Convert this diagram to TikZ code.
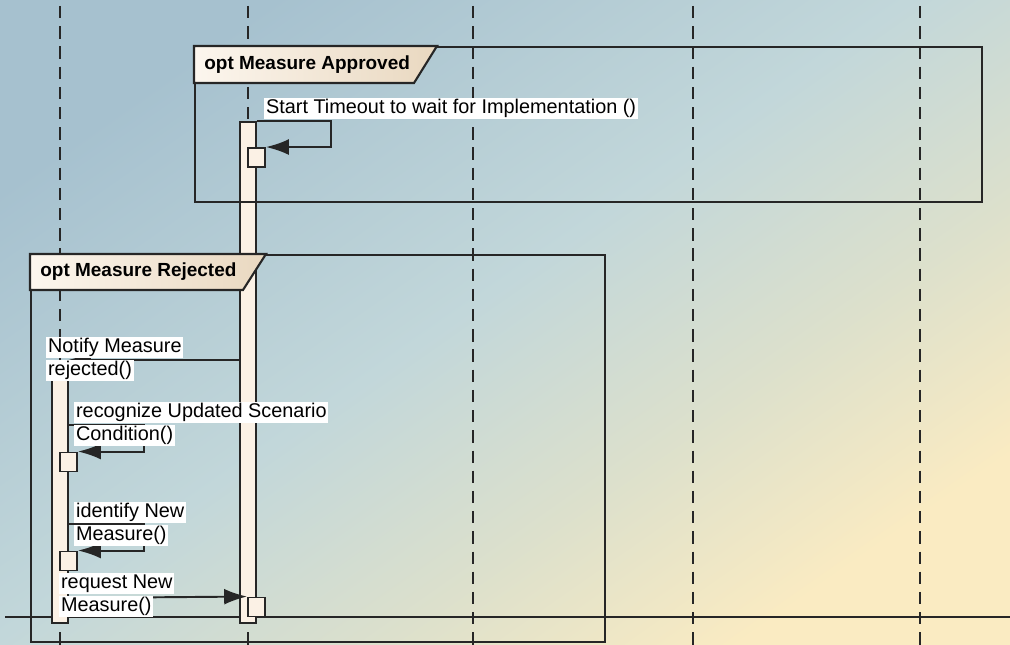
\documentclass[tikz,border=0pt]{standalone}
\usepackage{fontspec}
\setmainfont{Liberation Sans}
\usetikzlibrary{positioning, arrows.meta}

\definecolor{bgtop}{HTML}{A6C1CF}
\definecolor{bgmid}{HTML}{C2D7DA}
\definecolor{bgwarm}{HTML}{DCE0CC}
\definecolor{bgbot}{HTML}{FAEBC2}
\definecolor{barfill}{HTML}{FBF1E5}
\definecolor{tableft}{HTML}{FCF6EE}
\definecolor{tabright}{HTML}{E9D8C0}
\definecolor{ink}{HTML}{262626}

\pgfdeclareverticalshading{backdrop}{100bp}{color(0bp)=(bgbot); color(25bp)=(bgbot);
	color(38bp)=(bgwarm); color(52bp)=(bgmid); color(75bp)=(bgtop); color(100bp)=(bgtop)}

\tikzset{
	lifeline/.style={draw=ink, line width=1.1pt, dash pattern=on 7pt off 4.5pt},
	fragbox/.style={draw=ink, line width=1.2pt, inner sep=0pt},
	fragtab/.style={draw=ink, line width=1.2pt, left color=tableft, right color=tabright},
	fraglabel/.style={anchor=west, inner sep=0pt, font=\fontsize{10.8}{12}\selectfont\bfseries},
	actbar/.style={draw=ink, line width=1.1pt, fill=barfill, inner sep=0pt, minimum width=0.32cm},
	actbox/.style={draw=ink, line width=1.1pt, fill=barfill, inner sep=0pt,
		minimum width=0.34cm, minimum height=0.38cm},
	msg/.style={draw=ink, line width=1.1pt, -{Latex[length=13pt, width=9pt]}},
	msglabel/.style={anchor=north west, fill=white, inner xsep=1pt, inner ysep=0.5pt,
		text height=8.3pt, text depth=2.6pt, font=\fontsize{11.3}{13}\selectfont}
}

\begin{document}
\begin{tikzpicture}[x=0.02cm, y=-0.02cm]
		% background
		\shade[shading=backdrop, shading angle=35] (0,0) rectangle (1010,645);
		\useasboundingbox (0,0) rectangle (1010,645);

		% lifelines
		\foreach \x/\n in {60/a, 248/b, 473/c, 693/d, 920/e} {
			\coordinate (top-\n) at (\x,6);
			\coordinate (bot-\n) at (\x,645);
			\draw[lifeline] (top-\n) -- (bot-\n);
		}

		\coordinate (ground-l) at (5,617);
		\coordinate (ground-r) at (1010,617);
		\draw[ink, line width=1.5pt] (ground-l) -- (ground-r);

		% activations
		\node[actbar, minimum height=10.02cm] (barB) at (248,372.5) {};
		\node[actbar, minimum height=5.02cm] (barA) at (60,497.5) {};

		% fragments
		\node[fragbox, minimum width=15.74cm, minimum height=3.1cm] (approved)
			at (588.5,124.5) {};
		\shade[fragtab] (approved.north west) -- ++(243,0) -- ++(-23,37)
			-- ++(-220,0) -- cycle;
		\node[fraglabel] (approved-tab) at (204,65) {opt Measure Approved};

		\node[fragbox, minimum width=11.48cm, minimum height=7.74cm] (rejected)
			at (318,448.5) {};
		\shade[fragtab] (rejected.north west) -- ++(236,0) -- ++(-23,36)
			-- ++(-213,0) -- cycle;
		\node[fraglabel] (rejected-tab) at (40,272) {opt Measure Rejected};

		\node[actbox] (boxB1) at (256.5,157.5) {};
		\node[actbox] (boxA1) at (68.5,462) {};
		\node[actbox] (boxA2) at (68.5,561) {};
		\node[actbox] (boxB2) at (256.5,607) {};

		% messages
		\coordinate (notify-end) at (68,360);
		\coordinate (recognize-start) at (68,425);
		\coordinate (identify-start) at (68,524);
		\coordinate (request-start) at (68,598);

		\draw[msg] (barB.north east) -- ++(74,0) |- (boxB1.north east);
		\draw[msg] (barB.west |- notify-end) -- (notify-end);
		\draw[msg] (recognize-start) -- ++(76,0) |- (boxA1.north east);
		\draw[msg] (identify-start) -- ++(76,0) |- (boxA2.north east);
		\draw[msg] (request-start) -- (boxB2.north west);

		\node[msglabel] (timeout) at (264,98)
			{Start Timeout to wait for Implementation ()};
		\node[msglabel] (notify-1) at (46,337) {Notify Measure};
		\node[msglabel] (notify-2) at (46,360) {rejected()};
		\node[msglabel] (recognize-1) at (74,402) {recognize Updated Scenario};
		\node[msglabel] (recognize-2) at (74,425) {Condition()};
		\node[msglabel] (identify-1) at (74,502) {identify New};
		\node[msglabel] (identify-2) at (74,525) {Measure()};
		\node[msglabel] (request-1) at (59,573) {request New};
		\node[msglabel] (request-2) at (59,596) {Measure()};
	\end{tikzpicture}
\end{document}
